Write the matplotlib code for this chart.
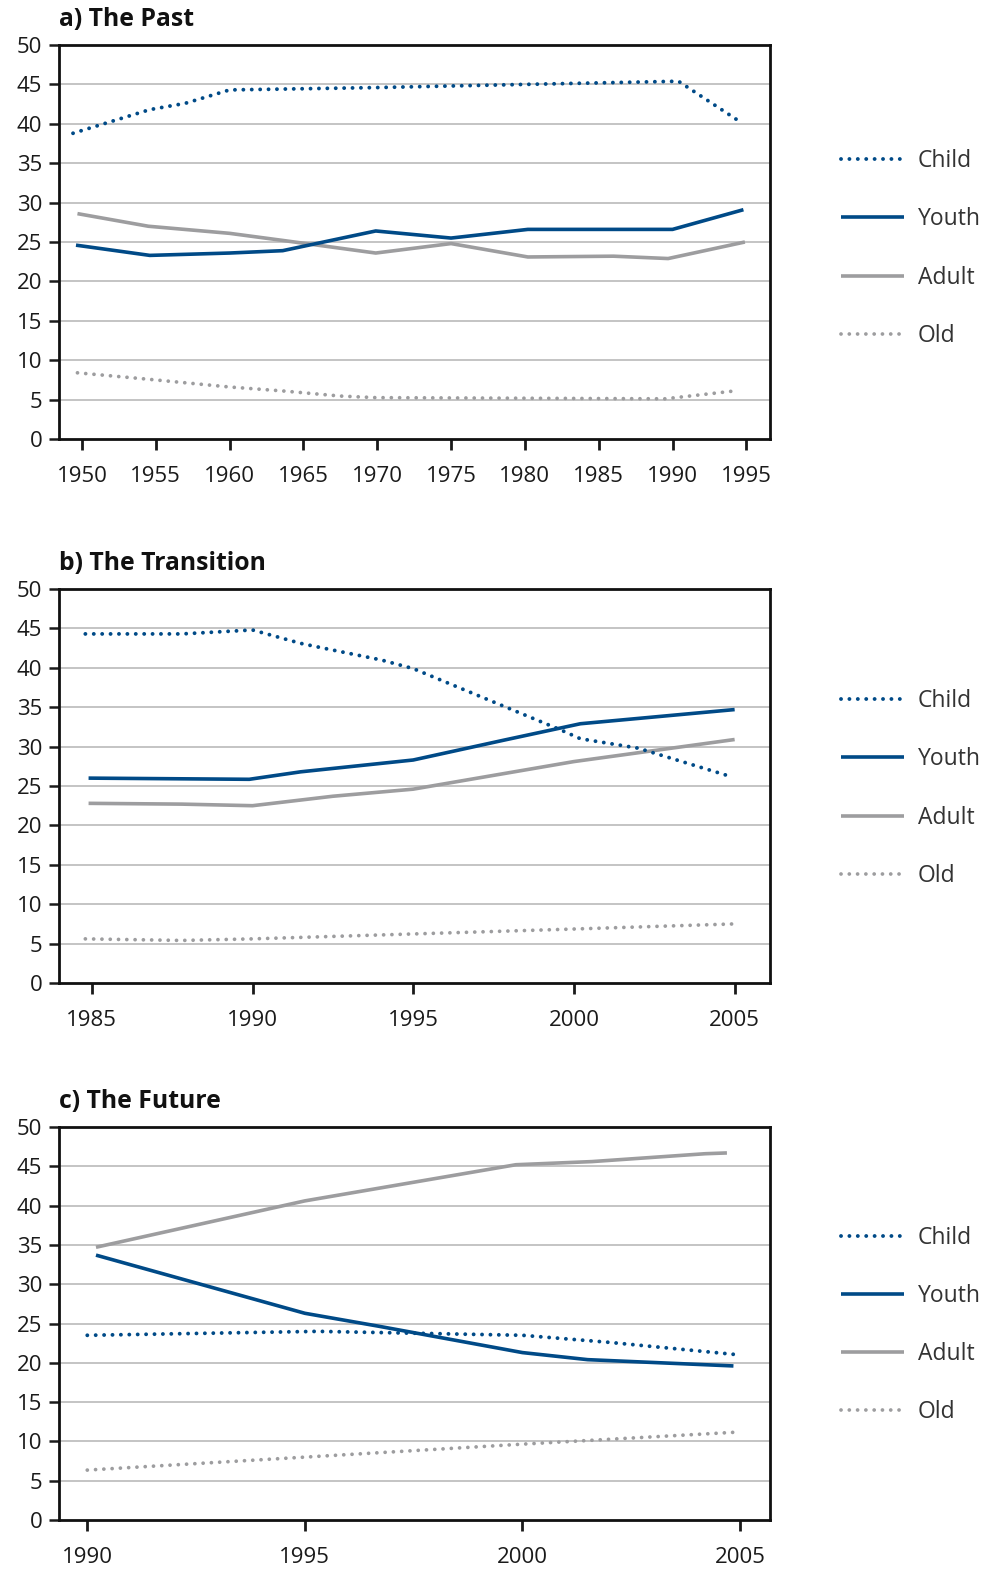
import matplotlib
matplotlib.use("Agg")
import matplotlib.pyplot as plt

plt.rcParams['font.family'] = ['Open Sans', 'DejaVu Sans']

# ---------------- data ----------------
series_names = ["Child", "Youth", "Adult", "Old"]

# a) The Past
a_child_x = [1949.4, 1954.6, 1957.0, 1960.0, 1970.0, 1975.0, 1980.0, 1990.4, 1994.7]
a_child_y = [38.8, 41.8, 42.6, 44.3, 44.6, 44.8, 45.0, 45.4, 40.1]
a_youth_x = [1949.6, 1954.6, 1960.0, 1963.6, 1969.9, 1975.0, 1980.2, 1990.0, 1994.8]
a_youth_y = [24.6, 23.3, 23.6, 23.9, 26.4, 25.5, 26.6, 26.6, 29.1]
a_adult_x = [1949.7, 1954.5, 1960.0, 1963.6, 1969.9, 1975.0, 1980.2, 1986.0, 1989.7, 1994.9]
a_adult_y = [28.6, 27.0, 26.1, 25.2, 23.6, 24.8, 23.1, 23.2, 22.9, 25.0]
a_old_x = [1949.7, 1954.4, 1960.0, 1963.6, 1967.5, 1969.9, 1989.5, 1994.2]
a_old_y = [8.4, 7.6, 6.6, 6.1, 5.45, 5.25, 5.1, 6.1]
a_ticks = [1950, 1955, 1960, 1965, 1970, 1975, 1980, 1985, 1990, 1995]

# b) The Transition
b_child_x = [1984.8, 1987.8, 1990.0, 1991.5, 1992.2, 1994.0, 1995.0, 1999.6, 2000.2, 2002.0, 2004.8]
b_child_y = [44.3, 44.3, 44.8, 43.1, 42.5, 41.0, 39.9, 32.1, 31.0, 29.8, 26.3]
b_youth_x = [1984.9, 1989.9, 1991.5, 1995.0, 1997.8, 2000.2, 2005.0]
b_youth_y = [26.0, 25.85, 26.8, 28.3, 30.8, 32.9, 34.7]
b_adult_x = [1984.9, 1987.8, 1990.0, 1992.5, 1995.0, 2000.0, 2005.0]
b_adult_y = [22.8, 22.7, 22.5, 23.7, 24.6, 28.1, 30.9]
b_old_x = [1984.8, 1987.8, 1990.0, 1994.0, 2000.0, 2005.0]
b_old_y = [5.6, 5.4, 5.6, 6.1, 6.85, 7.5]
b_ticks = [1985, 1990, 1995, 2000, 2005]

# c) The Future
c_child_x = [1990.0, 1995.3, 2000.0, 2002.0, 2005.0]
c_child_y = [23.5, 24.0, 23.5, 22.6, 21.0]
c_youth_x = [1990.2, 1995.0, 1996.7, 2000.0, 2001.5, 2004.85]
c_youth_y = [33.7, 26.3, 24.65, 21.3, 20.4, 19.6]
c_adult_x = [1990.2, 1995.0, 1999.85, 2001.6, 2004.2, 2004.7]
c_adult_y = [34.7, 40.6, 45.2, 45.6, 46.6, 46.7]
c_old_x = [1990.0, 1995.0, 2000.0, 2005.0]
c_old_y = [6.35, 8.0, 9.65, 11.2]
c_ticks = [1990, 1995, 2000, 2005]

titles = ["a) The Past", "b) The Transition", "c) The Future"]
y_ticks = [0, 5, 10, 15, 20, 25, 30, 35, 40, 45, 50]

# ---------------- style ----------------
BLUE = "#004a87"
GREY = "#9d9d9f"
W, H = 985, 1572
fig = plt.figure(figsize=(W / 100, H / 100), dpi=100)

panels = [
    dict(top=45, bottom=439, xlim=(1948.45, 1996.6), ticks=a_ticks, leg_y=0.4834,
         data=[(a_child_x, a_child_y), (a_youth_x, a_youth_y), (a_adult_x, a_adult_y), (a_old_x, a_old_y)]),
    dict(top=589, bottom=983, xlim=(1983.98, 2006.1), ticks=b_ticks, leg_y=0.4936,
         data=[(b_child_x, b_child_y), (b_youth_x, b_youth_y), (b_adult_x, b_adult_y), (b_old_x, b_old_y)]),
    dict(top=1127, bottom=1520, xlim=(1989.35, 2005.69), ticks=c_ticks, leg_y=0.4961,
         data=[(c_child_x, c_child_y), (c_youth_x, c_youth_y), (c_adult_x, c_adult_y), (c_old_x, c_old_y)]),
]

styles = [
    dict(color=BLUE, lw=2.8, linestyle=(0, (0.01, 2.15)), dash_capstyle='round'),
    dict(color=BLUE, lw=2.6, linestyle='-', solid_capstyle='butt'),
    dict(color=GREY, lw=2.6, linestyle='-', solid_capstyle='butt'),
    dict(color=GREY, lw=2.7, linestyle=(0, (0.01, 2.2)), dash_capstyle='round'),
]

left_px, right_px = 59, 770
for i, p in enumerate(panels):
    ax = fig.add_axes([left_px / W, 1 - p['bottom'] / H,
                       (right_px - left_px) / W, (p['bottom'] - p['top']) / H])
    ax.set_xlim(*p['xlim'])
    ax.set_ylim(0, 50)
    for yv in y_ticks[1:-1]:
        ax.axhline(yv, color="#b4b4b4", lw=1.1, zorder=1)
    lines = {}
    for k in [3, 2, 1, 0]:
        xs, ys = p['data'][k]
        ln, = ax.plot(xs, ys, zorder=3 + (3 - k), **styles[k])
        lines[k] = ln
    handles = [lines[k] for k in range(4)]
    ax.set_xticks(p['ticks'])
    ax.set_xticklabels([str(t) for t in p['ticks']])
    ax.set_yticks(y_ticks)
    ax.set_yticklabels([str(t) for t in y_ticks])
    ax.tick_params(axis='x', direction='out', length=8, width=2, pad=11.5,
                   labelsize=16, colors='#1a1a1a')
    ax.tick_params(axis='y', direction='out', length=7.5, width=1.8, pad=4.5,
                   labelsize=16, colors='#1a1a1a')
    for s in ax.spines.values():
        s.set_linewidth(2.0)
        s.set_color('#111111')
    ax.annotate(titles[i], xy=(0, 1), xycoords='axes fraction',
                xytext=(0, 13.5), textcoords='offset points',
                ha='left', va='baseline', fontsize=17.8, fontweight='bold',
                color='#111111')
    ax.legend(handles, series_names, loc='center left',
              bbox_to_anchor=((841 - left_px) / (right_px - left_px), p['leg_y']),
              frameon=False, borderpad=0, borderaxespad=0,
              handlelength=2.75, handletextpad=0.6, labelspacing=1.49,
              prop={'size': 16.5}, labelcolor='#333333')

fig.savefig("out.png", dpi=100)
